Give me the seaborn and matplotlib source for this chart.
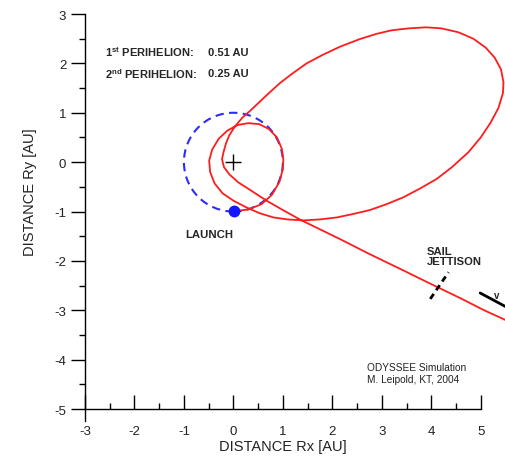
import numpy as np
import pandas as pd
import matplotlib
matplotlib.use("Agg")
import matplotlib.pyplot as plt
from matplotlib.patches import Circle
from matplotlib.ticker import MultipleLocator
import seaborn as sns

# ------------------------------------------------------------
# Donnees (en AU)
# ------------------------------------------------------------

# trajectoire complete depuis le lancement
traj_x = [0.02, 0.30, 0.57, 0.78, 0.93, 1.00, 1.01, 0.98, 0.88, 0.72, 0.52, 0.30,
          0.08, -0.12, -0.30, -0.43, -0.49, -0.47, -0.38, -0.22, 0.00, 0.25, 0.52,
          0.81, 1.10, 1.41, 1.75, 2.09, 2.42, 2.76, 3.10, 3.44, 3.78, 4.11, 4.42,
          4.75, 5.00, 5.20, 5.36, 5.45, 5.46, 5.41, 5.28, 5.10, 4.85, 4.55, 4.20,
          3.90, 3.55, 3.20, 2.90, 2.55, 2.16, 1.80, 1.48, 1.20, 0.94, 0.72, 0.54,
          0.35, 0.18, 0.03, -0.08, -0.15, -0.20, -0.23, -0.19, -0.08, 0.10, 0.35,
          0.67, 1.00, 1.38, 1.75, 2.16, 2.75, 3.37, 4.00, 4.60, 5.05, 5.53]
traj_y = [-0.99, -0.96, -0.85, -0.66, -0.40, -0.14, 0.05, 0.27, 0.50, 0.67, 0.77, 0.79,
          0.75, 0.64, 0.47, 0.25, 0.03, -0.20, -0.43, -0.63, -0.78, -0.91, -1.03,
          -1.12, -1.16, -1.18, -1.16, -1.12, -1.05, -0.97, -0.85, -0.71, -0.53, -0.34, -0.10,
          0.20, 0.50, 0.80, 1.10, 1.40, 1.62, 1.88, 2.12, 2.32, 2.50, 2.63, 2.71,
          2.73, 2.71, 2.67, 2.60, 2.49, 2.34, 2.17, 2.00, 1.80, 1.60, 1.40, 1.23,
          1.05, 0.90, 0.72, 0.55, 0.38, 0.20, 0.06, -0.10, -0.25, -0.41, -0.57,
          -0.78, -0.97, -1.18, -1.36, -1.56, -1.86, -2.16, -2.47, -2.76, -2.99, -3.21]

earth_orbit_r = 1.0
sun_x, sun_y = 0.0, 0.0
launch_x, launch_y = 0.02, -0.99

jettison_x = [3.98, 4.35]
jettison_y = [-2.77, -2.23]
vel_x = [4.99, 5.53]
vel_y = [-2.65, -2.94]

perihelions = ["0.51 AU", "0.25 AU"]

# ------------------------------------------------------------
# Figure
# ------------------------------------------------------------

sns.set_theme(style="white")
plt.rcParams["font.family"] = ["Liberation Sans", "DejaVu Sans"]
plt.rcParams["mathtext.fontset"] = "custom"
plt.rcParams["mathtext.rm"] = "Liberation Sans"
plt.rcParams["mathtext.bf"] = "Liberation Sans:bold"
plt.rcParams["axes.unicode_minus"] = False

fig = plt.figure(figsize=(5.06, 4.6), dpi=100)
ax = fig.add_axes([85 / 506, (460 - 422.4) / 460, 395.7 / 506, 407.4 / 460])

ax.add_patch(Circle((sun_x, sun_y), earth_orbit_r, fill=False, color="#2b2bff",
                    lw=1.5, linestyle=(0, (4, 2.6))))

sns.lineplot(x=traj_x, y=traj_y, sort=False, estimator=None, color="#ff1c1c",
             lw=1.3, ax=ax)
for ln in ax.lines:
    ln.set_clip_on(False)

ax.plot(jettison_x, jettison_y, color="black", lw=2, linestyle=(0, (2.2, 1.6)),
        clip_on=False)
ax.plot(vel_x, vel_y, color="black", lw=2, clip_on=False)
ax.plot(sun_x, sun_y, "+", color="black", ms=12, mew=1)
ax.plot(launch_x, launch_y, "o", color="#1414ff", ms=7.5)

ax.set_xlim(-3, 5)
ax.set_ylim(-5.25, 3)
ax.spines["top"].set_visible(False)
ax.spines["right"].set_visible(False)
ax.spines["bottom"].set_position(("data", -5))
for s in ["left", "bottom"]:
    ax.spines[s].set_color("black")
    ax.spines[s].set_linewidth(1)

ax.set_xticks(range(-3, 6))
ax.set_yticks(range(-5, 4))
ax.xaxis.set_minor_locator(MultipleLocator(0.5))
ax.yaxis.set_minor_locator(MultipleLocator(0.5))
ax.tick_params(axis="x", which="major", direction="in", length=10, width=1,
               pad=11.5, labelsize=9.5, colors="#222222")
ax.tick_params(axis="x", which="minor", direction="in", length=4, width=1)
ax.tick_params(axis="y", which="major", direction="out", length=10, width=1,
               pad=3.5, labelsize=9.5, colors="#222222")
ax.tick_params(axis="y", which="minor", direction="out", length=4, width=1)
ax.tick_params(which="both", color="black", bottom=True, left=True)

ax.set_xlabel("DISTANCE Rx [AU]", fontsize=10.5, color="#222222")
ax.set_ylabel("DISTANCE Ry [AU]", fontsize=10.5, color="#222222")
ax.xaxis.set_label_coords(0.5, -0.043)
ax.yaxis.set_label_coords(-0.121, 0.564)

# textes
ax.text(-2.60, 2.24, r"1$^{\mathbf{st}}$ PERIHELION:", fontsize=8, weight="bold",
        va="center", ha="left")
ax.text(-2.60, 1.81, r"2$^{\mathbf{nd}}$ PERIHELION:", fontsize=8, weight="bold",
        va="center", ha="left")
ax.text(-0.51, 2.24, perihelions[0], fontsize=8, weight="bold", va="center")
ax.text(-0.51, 1.81, perihelions[1], fontsize=8, weight="bold", va="center")
ax.text(-0.49, -1.45, "LAUNCH", fontsize=8.2, weight="bold", ha="center", va="center")
ax.text(3.91, -1.90, "SAIL\nJETTISON", fontsize=8.1, weight="bold", ha="left",
        va="center", linespacing=1.1)
ax.text(5.33, -2.70, "v", fontsize=7, weight="bold", ha="center", va="center")
ax.text(2.70, -4.15, "ODYSSEE Simulation", fontsize=7.3, color="#222222", va="center")
ax.text(2.70, -4.39, "M. Leipold, KT, 2004", fontsize=7.3, color="#222222", va="center")

fig.savefig("out.png", dpi=100)
